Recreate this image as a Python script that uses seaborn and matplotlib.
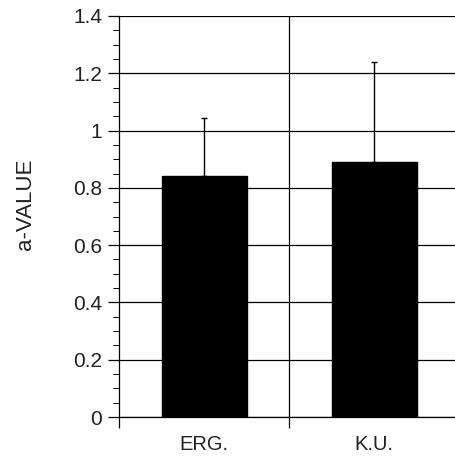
import numpy as np
import matplotlib
matplotlib.use('Agg')
import matplotlib.pyplot as plt
import seaborn as sns
from matplotlib.ticker import MultipleLocator, FixedLocator

# data
groups = ['ERG.', 'K.U.']
a_value = [0.84, 0.89]
a_err = [0.205, 0.35]   # upper error only

sns.set_style('white')
plt.rcParams['font.family'] = ['Liberation Sans', 'DejaVu Sans']

fig = plt.figure(figsize=(4.56, 4.57), dpi=100)
ax = fig.add_axes([0.261, 0.0875, 0.7456, 0.8775])

sns.barplot(x=groups, y=a_value, color='black', width=0.5, ax=ax,
            saturation=1, edgecolor='black', zorder=3)
ax.errorbar(np.arange(len(groups)), a_value,
            yerr=[np.zeros(len(a_err)), a_err],
            fmt='none', ecolor='black', elinewidth=1.0, capsize=2.5,
            capthick=1.0, zorder=2)

ax.set_xlim(-0.5, 1.5)
ax.set_ylim(0, 1.4)

# horizontal grid + divider between groups
ax.yaxis.set_minor_locator(MultipleLocator(0.05))
ax.set_yticks([0, 0.2, 0.4, 0.6, 0.8, 1.0, 1.2, 1.4])
ax.set_yticklabels(['0', '0.2', '0.4', '0.6', '0.8', '1', '1.2', '1.4'])
ax.grid(axis='y', which='major', color='black', linewidth=0.9, zorder=0)
ax.axvline(0.5, color='black', linewidth=0.9, zorder=0)
ax.set_axisbelow(True)

ax.xaxis.set_minor_locator(FixedLocator([-0.5, 0.5]))
ax.tick_params(axis='x', which='major', length=0, pad=13, labelsize=14.5,
               labelcolor='#222222')
ax.tick_params(axis='x', which='minor', direction='out', length=8,
               width=0.9, color='black', bottom=True)
ax.tick_params(axis='y', which='major', direction='out', length=8,
               width=0.9, color='black', left=True, labelsize=15, pad=4,
               labelcolor='#222222')
ax.tick_params(axis='y', which='minor', direction='out', length=4,
               width=0.7, color='black', left=True)

for s in ['top', 'right']:
    ax.spines[s].set_visible(False)
for s in ['left', 'bottom']:
    ax.spines[s].set_color('black')
    ax.spines[s].set_linewidth(0.9)

ax.set_ylabel('a-VALUE', fontsize=16, color='#222222')
ax.yaxis.set_label_coords(-0.245, 0.53)
ax.set_xlabel('')

fig.savefig('out.png', dpi=100)
